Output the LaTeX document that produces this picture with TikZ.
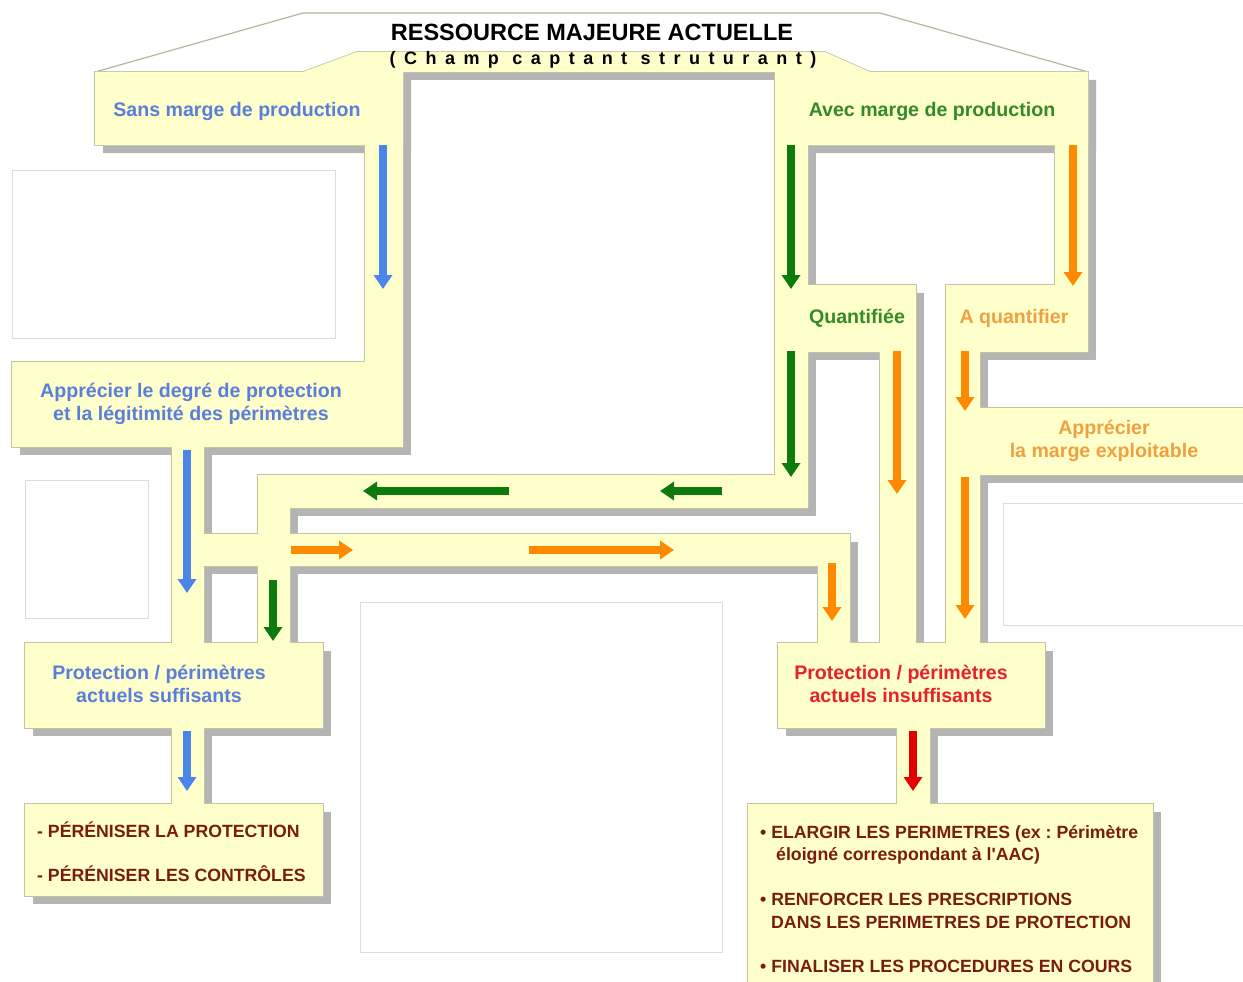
\documentclass[tikz,border=0pt]{standalone}
\usepackage{fontspec}
\setmainfont{Liberation Sans}
\newfontfamily\spacedfont[LetterSpace=47]{Liberation Sans}
\usetikzlibrary{arrows.meta}
\frenchspacing

\definecolor{paneyellow}{HTML}{FFFFCC}
\definecolor{paneedge}{HTML}{C4C4A4}
\definecolor{paneshadow}{HTML}{B4B4B4}
\definecolor{holdergray}{HTML}{DCDCDC}
\definecolor{arrowblue}{HTML}{4A86EA}
\definecolor{arrowgreen}{HTML}{0D7A0D}
\definecolor{arroworange}{HTML}{FF8A00}
\definecolor{arrowred}{HTML}{E30000}
\definecolor{labelblue}{HTML}{5A7EDA}
\definecolor{labelgreen}{HTML}{338A26}
\definecolor{labelorange}{HTML}{F0A040}
\definecolor{labelred}{HTML}{E8202A}
\definecolor{todobrown}{HTML}{7A1C0C}

\tikzset{
  flow/.style={line width=8pt, -{Triangle[length=14pt,width=18pt]}},
  lbl/.style={font=\fontsize{19.6}{23}\selectfont\bfseries, align=center, inner sep=0pt},
  todo/.style={font=\fontsize{17.7}{22.5}\selectfont\bfseries, text=todobrown, align=left, anchor=west, inner sep=0pt},
  holder/.style={draw=holdergray, fill=white, line width=1pt}
}

\def\toppane{(95,72) -- (303,72) -- (357,52) -- (825,52) -- (870,72) -- (1088,72) -- (1088,145) -- (775,145) -- (775,72) -- (403,72) -- (403,145) -- (95,145) -- cycle}
\def\panelist{365/140/403/367, 12/362/403/447, 172/445/204/645, 258/475/808/508, 258/505/290/645, 204/534/850/566, 818/563/850/645, 25/643/323/728, 172/726/204/806, 25/804/323/896, 775/140/808/508, 1055/140/1088/288, 775/285/916/352, 946/285/1088/352, 880/350/916/645, 946/350/980/645, 946/408/1270/475, 778/643/1045/728, 897/726/930/806, 748/804/1153/1010}

\begin{document}
\begin{tikzpicture}[x=1pt,y=-1pt]
\useasboundingbox (0,0) rectangle (1243,982);
\clip (0,0) rectangle (1243,982);
\fill[white] (0,0) rectangle (1243,982);

\draw[paneedge!80!gray, line width=1.2pt] (95,72) -- (303,13) -- (880,13) -- (1088,72);

\fill[paneshadow, shift={(8,8)}] \toppane;
\foreach \xa/\ya/\xb/\yb in \panelist
  \fill[paneshadow] (\xa+8,\ya+8) rectangle (\xb+8,\yb+8);
\draw[paneedge, line width=1.6pt] \toppane;
\foreach \xa/\ya/\xb/\yb in \panelist
  \draw[paneedge, line width=1.6pt] (\xa,\ya) rectangle (\xb,\yb);
\fill[paneyellow] \toppane;
\foreach \xa/\ya/\xb/\yb in \panelist
  \fill[paneyellow] (\xa,\ya) rectangle (\xb,\yb);

\draw[holder] (12,170) rectangle (335,338);
\draw[holder] (25,480) rectangle (148,618);
\draw[holder] (360,602) rectangle (722,952);
\draw[holder] (1003,503) rectangle (1260,625);

\node[font=\fontsize{23.5}{26}\selectfont\bfseries, inner sep=0pt] (title) at (592,32) {RESSOURCE MAJEURE ACTUELLE};
\node[font=\spacedfont\bfseries\fontsize{18}{20}\selectfont, inner sep=0pt] (champ) at (603,60) {(Champ captant struturant)};

\node[lbl, text=labelblue] (sans) at (237,111) {Sans marge de production};
\node[lbl, text=labelgreen] (avec) at (932,111) {Avec marge de production};
\node[lbl, text=labelblue] (degre) at (191,404) {Apprécier le degré de protection\\et la légitimité des périmètres};
\node[lbl, text=labelgreen] (quant) at (857,318) {Quantifiée};
\node[lbl, text=labelorange] (aquant) at (1014,318) {A quantifier};
\node[lbl, text=labelorange] (marge) at (1104,441) {Apprécier\\la marge exploitable};
\node[lbl, text=labelblue] (suff) at (159,684) {Protection / périmètres\\actuels suffisants};
\node[lbl, text=labelred] (insuff) at (901,684) {Protection / périmètres\\actuels insuffisants};

\node[todo] (perenprot) at (37,830) {- PÉRÉNISER LA PROTECTION};
\node[todo] (perenctrl) at (37,874) {- PÉRÉNISER LES CONTRÔLES};
\node[todo] (elargir) at (760,845) {• ELARGIR LES PERIMETRES (ex : Périmètre\\\hspace*{16pt}éloigné correspondant à l\textquotesingle AAC)};
\node[todo] (renforcer) at (760,911) {• RENFORCER LES PRESCRIPTIONS\\\hspace*{11pt}DANS LES PERIMETRES DE PROTECTION};
\node[todo] (finaliser) at (760,966) {• FINALISER LES PROCEDURES EN COURS};

\draw[flow, arrowblue] (383,145) -- (383,289);
\draw[flow, arrowblue] (187,450) -- (187,593);
\draw[flow, arrowblue] (187,731) -- (187,791);
\draw[flow, arrowgreen] (791,145) -- (791,289);
\draw[flow, arrowgreen] (791,351) -- (791,477);
\draw[flow, arrowgreen] (509,491) -- (363,491);
\draw[flow, arrowgreen] (722,491) -- (660,491);
\draw[flow, arrowgreen] (273,580) -- (273,641);
\draw[flow, arroworange] (1073,145) -- (1073,286);
\draw[flow, arroworange] (897,351) -- (897,494);
\draw[flow, arroworange] (965,351) -- (965,411);
\draw[flow, arroworange] (965,477) -- (965,619);
\draw[flow, arroworange] (291,550) -- (353,550);
\draw[flow, arroworange] (529,550) -- (674,550);
\draw[flow, arroworange] (832,563) -- (832,621);
\draw[flow, arrowred] (913,731) -- (913,791);
\end{tikzpicture}
\end{document}
